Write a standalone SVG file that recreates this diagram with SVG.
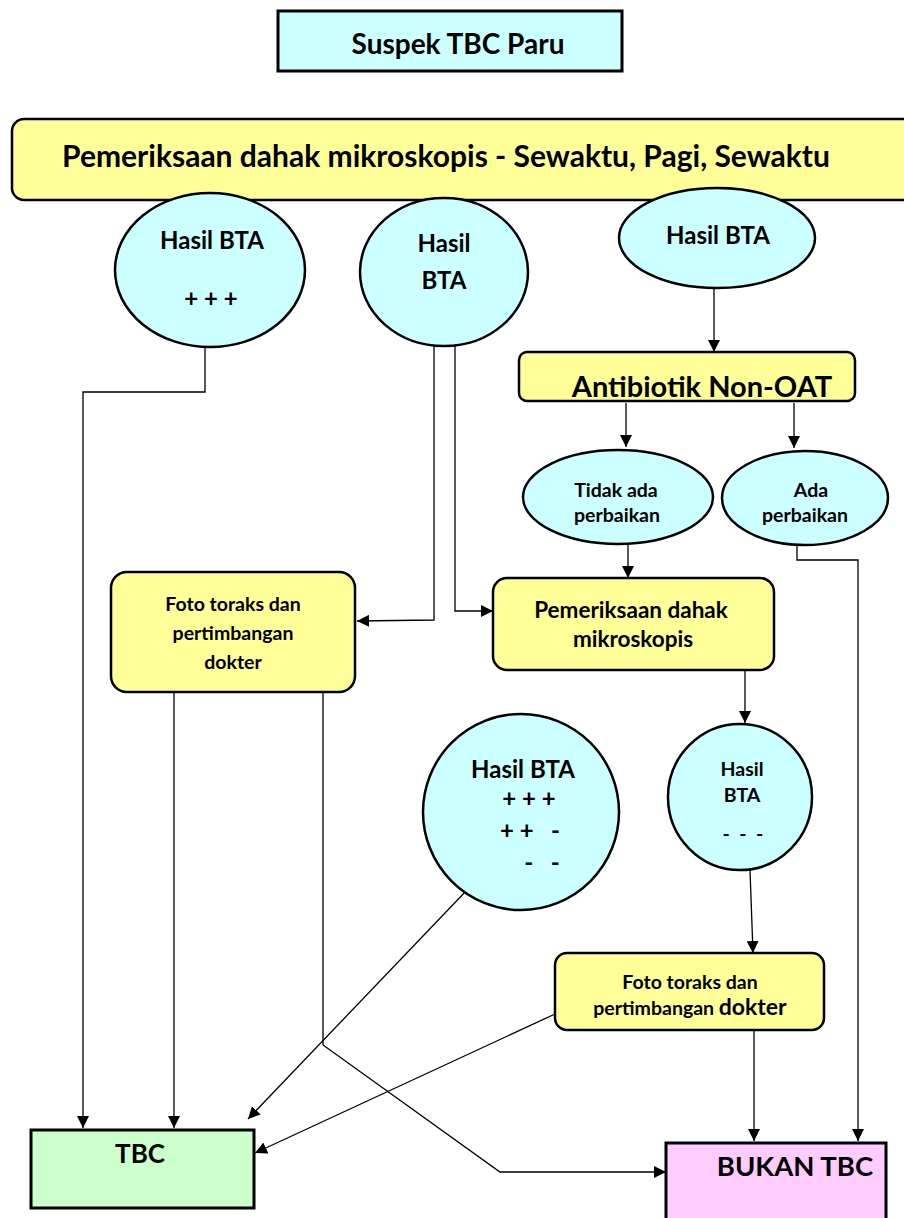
<svg xmlns="http://www.w3.org/2000/svg" width="904" height="1218" viewBox="0 0 904 1218">
<style>
text{font-family:Lato,"Open Sans","Liberation Sans",sans-serif;font-weight:bold;fill:#000;text-anchor:middle}
.pre{white-space:pre}
.cy{fill:#ccffff;stroke:#000;stroke-width:2.5}
.yl{fill:#ffff99;stroke:#000;stroke-width:2.5}
.ln{fill:none;stroke:#000;stroke-width:1.3}
</style>
<defs>
<marker id="ah" viewBox="0 0 10 10" refX="10" refY="5" markerWidth="12" markerHeight="12" markerUnits="userSpaceOnUse" orient="auto">
<path d="M0,0 L10,5 L0,10 z" fill="#000"/>
</marker>
</defs>
<g id="connectors">
<path class="ln" d="M714,288 V352" marker-end="url(#ah)"/>
<path class="ln" d="M626,403 V447" marker-end="url(#ah)"/>
<path class="ln" d="M794,403 V448" marker-end="url(#ah)"/>
<path class="ln" d="M628,545 V578" marker-end="url(#ah)"/>
<path class="ln" d="M797,545 V560 H858 V1141" marker-end="url(#ah)"/>
<path class="ln" d="M205,347 V392 H83 V1128" marker-end="url(#ah)"/>
<path class="ln" d="M434,340 V620 L357,621" marker-end="url(#ah)"/>
<path class="ln" d="M455,340 V611 H493" marker-end="url(#ah)"/>
<path class="ln" d="M174,690 V1128" marker-end="url(#ah)"/>
<path class="ln" d="M323,692 V1045 L500,1172 H666" marker-end="url(#ah)"/>
<path class="ln" d="M745,667 V723" marker-end="url(#ah)"/>
<path class="ln" d="M750,870 L753,953" marker-end="url(#ah)"/>
<path class="ln" d="M754,1030 V1141" marker-end="url(#ah)"/>
<path class="ln" d="M555,1014 L255,1153" marker-end="url(#ah)"/>
<path class="ln" d="M467,890 L248,1119" marker-end="url(#ah)"/>
</g>
<g id="suspek">
<rect x="278" y="11" width="344" height="60" fill="#ccffff" stroke="#000" stroke-width="3"/>
<text x="458" y="54" font-size="28">Suspek TBC Paru</text>
</g>
<g id="pemeriksaan-sps">
<rect x="12" y="119" width="905" height="81" rx="12" class="yl"/>
<text x="446" y="167" font-size="30">Pemeriksaan dahak mikroskopis - Sewaktu, Pagi, Sewaktu</text>
</g>
<g id="hasil1">
<ellipse cx="210" cy="270" rx="95" ry="77" class="cy"/>
<text x="212" y="249" font-size="24">Hasil BTA</text>
<text x="211" y="307" font-size="24">+ + +</text>
</g>
<g id="hasil2">
<ellipse cx="444" cy="272" rx="84" ry="74" class="cy"/>
<text x="444" y="252" font-size="24">Hasil</text>
<text x="444" y="289" font-size="24">BTA</text>
</g>
<g id="hasil3">
<ellipse cx="717" cy="238" rx="98" ry="50" class="cy"/>
<text x="718" y="244" font-size="24">Hasil BTA</text>
</g>
<g id="antibiotik">
<rect x="519" y="352" width="336" height="49" rx="8" class="yl"/>
<text x="702" y="397" font-size="29">Antibiotik Non-OAT</text>
</g>
<g id="tidak-ada">
<ellipse cx="618" cy="497" rx="95" ry="47" class="cy"/>
<text x="616" y="497" font-size="19.5">Tidak ada</text>
<text x="617" y="522" font-size="19.5">perbaikan</text>
</g>
<g id="ada">
<ellipse cx="805" cy="498" rx="83" ry="47" class="cy"/>
<text x="811" y="497" font-size="19.5">Ada</text>
<text x="805" y="522" font-size="19.5">perbaikan</text>
</g>
<g id="pemeriksaan2">
<rect x="493" y="578" width="281" height="92" rx="14" class="yl"/>
<text x="631" y="618" font-size="22.5">Pemeriksaan dahak</text>
<text x="633" y="647" font-size="22.5">mikroskopis</text>
</g>
<g id="foto1">
<rect x="111" y="572" width="244" height="120" rx="16" class="yl"/>
<text x="233" y="611" font-size="19.5">Foto toraks dan</text>
<text x="233" y="640" font-size="19.5">pertimbangan</text>
<text x="233" y="669" font-size="19.5">dokter</text>
</g>
<g id="hasil4">
<circle cx="521" cy="812" r="98" class="cy"/>
<text x="523" y="778" font-size="24">Hasil BTA</text>
<text x="529" y="807" font-size="24">+ + +</text>
<text x="530" y="839" font-size="24" class="pre">+ +   -</text>
<text x="542" y="871" font-size="24" class="pre">-   -</text>
</g>
<g id="hasil5">
<ellipse cx="740" cy="797" rx="72" ry="73" class="cy"/>
<text x="742" y="776" font-size="19.5">Hasil</text>
<text x="742" y="802" font-size="19.5">BTA</text>
<text x="743" y="841" font-size="19.5" class="pre">-  -  -</text>
</g>
<g id="foto2">
<rect x="555" y="953" width="269" height="77" rx="12" class="yl"/>
<text x="690" y="989" font-size="19.5">Foto toraks dan</text>
<text x="690" y="1015" font-size="19.5">pertimbangan <tspan font-size="23">dokter</tspan></text>
</g>
<g id="tbc">
<rect x="31" y="1130" width="223" height="78" fill="#ccffcc" stroke="#000" stroke-width="3"/>
<text x="140" y="1163" font-size="26">TBC</text>
</g>
<g id="bukan-tbc">
<rect x="666" y="1143" width="220" height="80" fill="#ffccff" stroke="#000" stroke-width="3"/>
<text x="795" y="1176" font-size="27.5">BUKAN TBC</text>
</g>
</svg>
